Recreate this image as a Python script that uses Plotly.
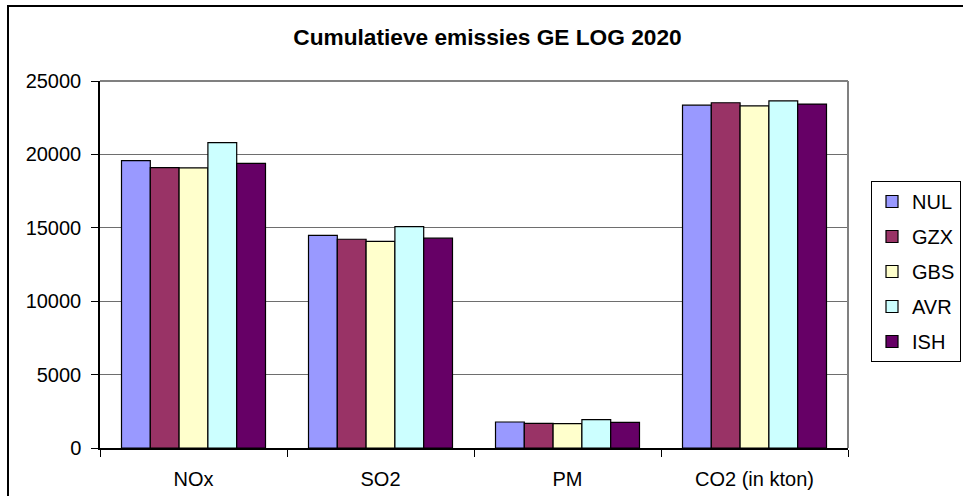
import plotly.graph_objects as go

# Emission categories and cumulative totals per scenario
categories = ["NOx", "SO2", "PM", "CO2 (in kton)"]
scenarios = ["NUL", "GZX", "GBS", "AVR", "ISH"]
nul = [19570, 14490, 1770, 23350]
gzx = [19100, 14220, 1680, 23520]
gbs = [19080, 14080, 1660, 23300]
avr = [20800, 15080, 1930, 23640]
ish = [19390, 14290, 1750, 23430]
series_values = [nul, gzx, gbs, avr, ish]
colors = ["#9999FF", "#993366", "#FFFFCC", "#CCFFFF", "#660066"]
y_ticks = [0, 5000, 10000, 15000, 20000, 25000]

FONT = "Liberation Sans, Arial, sans-serif"

fig = go.Figure()
for name, vals, col in zip(scenarios, series_values, colors):
    fig.add_trace(go.Bar(
        name=name, x=categories, y=vals, legendgroup=name,
        marker=dict(color=col, line=dict(color="black", width=1.2)),
    ))

W, H = 963, 496
L, R, T, B = 100, 848, 81, 448
pw, ph = R - L, B - T

def px_x(p):
    return (p - L) / pw

def px_y(p):
    return (B - p) / ph

shapes = [
    # chart frame
    dict(type="rect", xref="paper", yref="paper",
         x0=px_x(8), x1=px_x(968), y0=px_y(502), y1=px_y(6),
         line=dict(color="black", width=2), layer="above"),
    # plot area border (top and right)
    dict(type="line", xref="paper", yref="paper", x0=0, x1=1, y0=1, y1=1,
         line=dict(color="#808080", width=2), layer="above"),
    dict(type="line", xref="paper", yref="paper", x0=1, x1=1, y0=0, y1=1,
         line=dict(color="#808080", width=2), layer="above"),
]

fig.update_layout(
    width=W, height=H,
    margin=dict(l=L, r=W - R, t=T, b=H - B, pad=0, autoexpand=False),
    paper_bgcolor="white", plot_bgcolor="white",
    font=dict(family=FONT, size=20, color="black"),
    title=dict(text="<b>Cumulatieve emissies GE LOG 2020</b>",
               font=dict(family=FONT, size=22.7, color="black"),
               x=487.5 / W, xanchor="center", xref="container",
               y=1 - 37.5 / H, yanchor="middle", yref="container"),
    barmode="group", bargap=0.23, bargroupgap=0,
    showlegend=True,
    legend=dict(x=961 / W, xanchor="right", xref="container",
                y=1 - 181 / H, yanchor="top", yref="container",
                bordercolor="black", borderwidth=1, bgcolor="white",
                font=dict(family=FONT, size=20, color="black"),
                tracegroupgap=6, itemwidth=30),
    shapes=shapes,
    xaxis=dict(showline=True, linecolor="black", linewidth=1.5,
               ticks="outside", ticklen=7, tickcolor="black", tickwidth=1,
               tickson="boundaries", showgrid=False, automargin=False,
               ticklabelstandoff=12, tickfont=dict(size=20)),
    yaxis=dict(range=[0, 25000], tickvals=y_ticks,
               ticktext=[str(v) for v in y_ticks],
               showline=True, linecolor="black", linewidth=1.5,
               ticks="outside", ticklen=7, tickcolor="black", tickwidth=1,
               showgrid=True, gridcolor="#6e6e6e", gridwidth=1,
               zeroline=False, automargin=False,
               ticklabelstandoff=6, tickfont=dict(size=20)),
)

fig.write_html("out.html")
